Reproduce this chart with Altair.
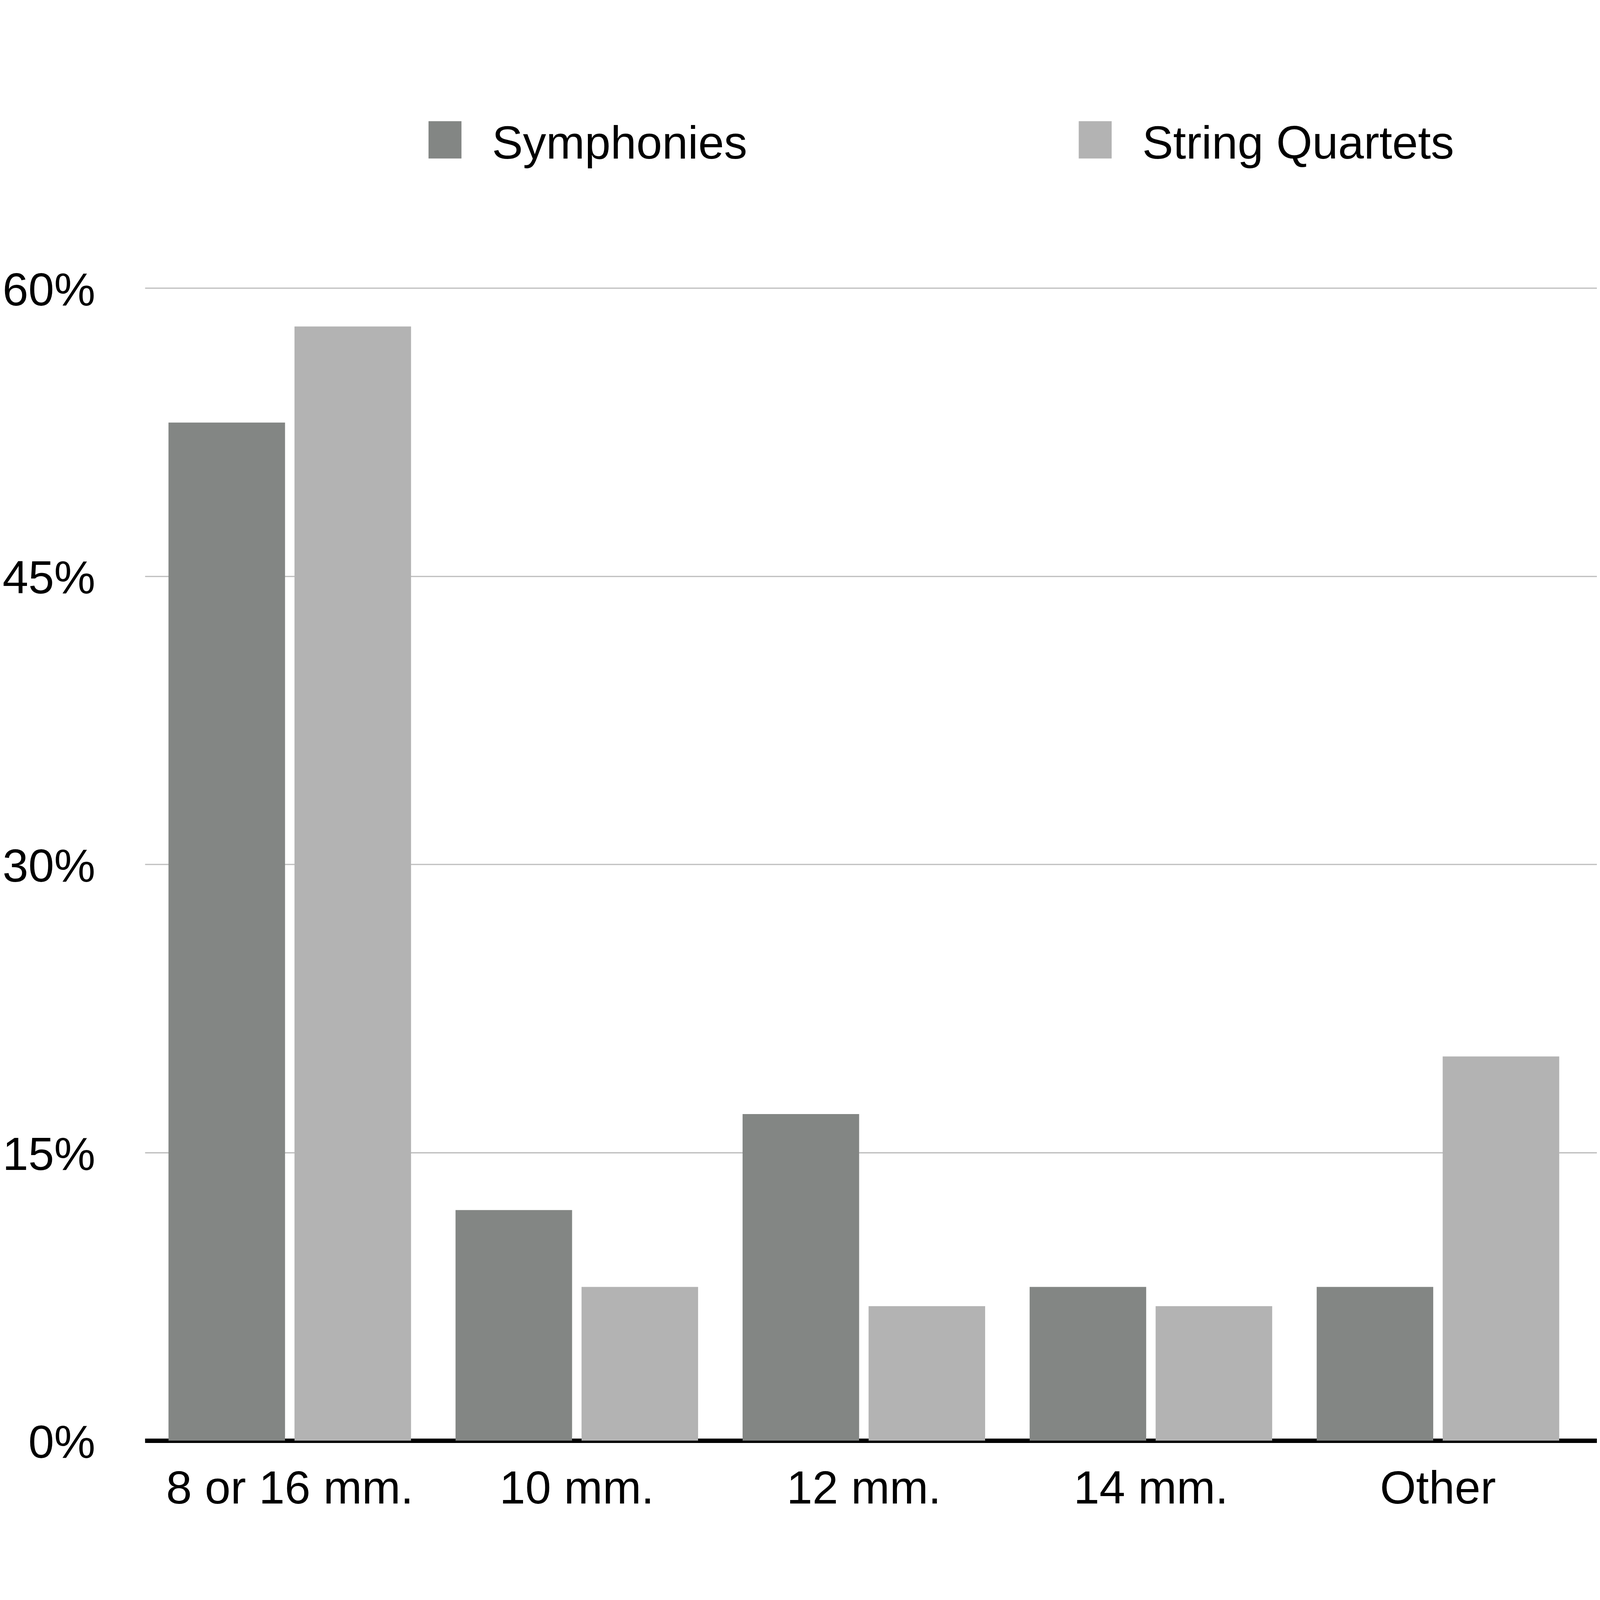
import altair as alt
import pandas as pd

categories = ["8 or 16 mm.", "10 mm.", "12 mm.", "14 mm.", "Other"]
series = ["Symphonies", "String Quartets"]
symphonies = [53, 12, 17, 8, 8]
string_quartets = [58, 8, 7, 7, 20]
y_ticks = [0, 15, 30, 45, 60]
colors = ["#838684", "#b3b3b3"]

rows = []
for c, s, q in zip(categories, symphonies, string_quartets):
    rows.append({"cat": c, "series": series[0], "value": s})
    rows.append({"cat": c, "series": series[1], "value": q})
df = pd.DataFrame(rows)

FONT = "Liberation Sans"

chart = alt.Chart(df).mark_bar().encode(
    x=alt.X(
        "cat:N",
        sort=categories,
        scale=alt.Scale(paddingInner=0.155, paddingOuter=0.1066, align=0.385),
        axis=alt.Axis(
            title=None, labelAngle=0, domainColor="black", domainWidth=13,
            ticks=False, tickSize=0, labelPadding=187, labelBaseline="alphabetic",
            labelFontSize=138, labelFont=FONT, labelColor="black", grid=False,
            labelLimit=0,
        ),
    ),
    xOffset=alt.XOffset("series:N", sort=series, scale=alt.Scale(paddingInner=0.075, paddingOuter=0)),
    y=alt.Y(
        "value:Q",
        scale=alt.Scale(domain=[0, 68.96], nice=False, zero=True),
        axis=alt.Axis(
            title=None, values=y_ticks, labelExpr="datum.value + '%'",
            domain=False, ticks=False, tickSize=0, labelPadding=148,
            labelFontSize=138, labelFont=FONT, labelColor="black",
            gridColor="#bdbdbd", gridWidth=3.5, labelBaseline="middle",
            labelOffset=10, labelLimit=0,
        ),
    ),
    color=alt.Color(
        "series:N",
        sort=series,
        scale=alt.Scale(domain=series, range=colors),
        legend=alt.Legend(
            title=None, orient="none", direction="horizontal",
            legendX=824, legendY=17,
            symbolType="M-0.883,-1.27H0.883V0.73H-0.883Z", symbolSize=12321,
            symbolStrokeWidth=0, labelFontSize=138, labelFont=FONT,
            labelOffset=71, columnPadding=966, padding=0, labelColor="black",
            labelLimit=0,
        ),
    ),
).properties(
    width=4321,
    height=3942,
    padding={"left": 422, "top": 0, "right": 0, "bottom": 192},
    autosize=alt.AutoSizeParams(type="none"),
).configure_view(stroke=None)

chart.save("out.html", embed_options={"renderer": "svg", "actions": False})
